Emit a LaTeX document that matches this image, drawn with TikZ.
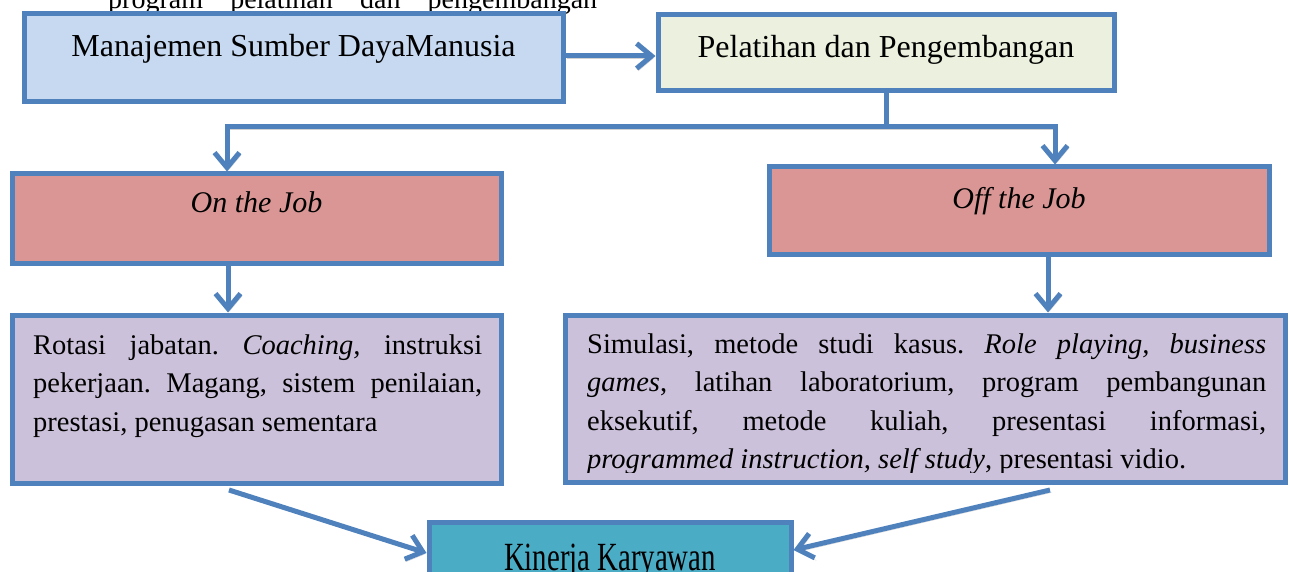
\documentclass[tikz,border=0pt]{standalone}
\usepackage{fontspec}
\setmainfont{Liberation Serif}
\usepackage{graphicx}
\usetikzlibrary{arrows.meta}
\definecolor{myBlue}{RGB}{79,129,189}
\definecolor{myLightBlue}{RGB}{198,217,241}
\definecolor{myCream}{RGB}{235,241,222}
\definecolor{myRose}{RGB}{217,150,148}
\definecolor{myLilac}{RGB}{204,193,218}
\definecolor{myTeal}{RGB}{75,172,198}
\frenchspacing

\begin{document}
\begin{tikzpicture}[%
    x=1pt, y=-1pt,
    >={Straight Barb[length=15pt,width=25pt]},
    box/.style={
        draw=myBlue, line width=5pt, inner sep=0pt,
        text height=20pt,
    },
    line/.style={draw=myBlue, line width=5pt},
    flow/.style={
        line, ->,
        preaction={draw=black!18, transform canvas={shift={(1.5pt,-2.5pt)}}},
    },
    bodytext/.style={
        inner sep=0pt, anchor=north west, align=justify,
        font=\fontsize{28.5}{38.5}\selectfont,
    },
]
\useasboundingbox (0,0) rectangle (1290,572);
\clip (0,0) rectangle (1290,572);

% place text line above the chart
\node[anchor=base west, inner sep=0pt, font=\fontsize{28}{34}\selectfont] (intro) at (108,9)
    {\makebox[489pt][s]{program pelatihan dan pengembangan}};

% place top boxes
\node[box, fill=myLightBlue, minimum width=539pt, minimum height=88pt, text depth=22pt,
    font=\fontsize{32}{36}\selectfont] (sdm) at (293.5,58) {Manajemen Sumber DayaManusia};
\node[box, fill=myCream, minimum width=456pt, minimum height=76pt, text depth=10pt,
    font=\fontsize{32}{36}\selectfont] (train) at (886,53) {Pelatihan dan Pengembangan};

% place method boxes
\node[box, fill=myRose, minimum width=489pt, minimum height=89pt, text depth=31pt,
    font=\fontsize{30}{34}\selectfont\itshape] (ojt) at (256.5,218.5) {On the Job};
\node[box, fill=myRose, minimum width=500pt, minimum height=87pt, text depth=25pt,
    font=\fontsize{30}{34}\selectfont\itshape] (offjt) at (1019,210.5) {Off the Job};

% place list boxes
\node[box, fill=myLilac, minimum width=489pt, minimum height=168pt] (ojtlist) at (256.5,399) {};
\node[box, fill=myLilac, minimum width=720pt, minimum height=167pt] (offjtlist) at (925,398.5) {};
\node[bodytext, text width=449pt] (ojttext) at (33,334)
    {\noindent\rule{0pt}{20pt}Rotasi jabatan. \textit{Coaching,} instruksi\linebreak
    pekerjaan. Magang, sistem penilaian,\linebreak
    prestasi, penugasan sementara};
\begin{scope}
    \clip (565,315) rectangle (1285,472);
    \node[bodytext, text width=679pt] (offjttext) at (587,333)
        {\noindent\rule{0pt}{20pt}Simulasi, metode studi kasus. \textit{Role playing, business}\linebreak
        \textit{games}, latihan laboratorium, program pembangunan\linebreak
        eksekutif, metode kuliah, presentasi informasi,\linebreak
        \textit{programmed instruction, self study}, presentasi vidio.};
\end{scope}

% place result box
\node[box, fill=myTeal, minimum width=362pt, minimum height=88pt, text depth=12pt,
    font=\fontsize{40}{44}\selectfont] (kinerja) at (610,566) {\scalebox{0.72}[1]{Kinerja Karyawan}};

% draw arrows
\coordinate (splitL) at (227,127);
\coordinate (splitR) at (1055,127);
\coordinate (colL) at (228,0);
\coordinate (colR) at (1048,0);
\coordinate (fromL) at (229,490);
\coordinate (fromR) at (1050,490);

\draw[flow] (sdm.east |- 0,56) -- (train.west |- 0,56);
\draw[line, preaction={draw=black!18, transform canvas={shift={(1.5pt,-2.5pt)}}}]
    (train.south) -- (train.south |- splitL);
\draw[flow, <->] (ojt.north -| splitL) -- (splitL) -- (splitR) -- (offjt.north -| splitR);
\foreach \a/\b/\c in {ojt/ojtlist/colL, offjt/offjtlist/colR} {
    \draw[flow] (\a.south -| \c) -- (\b.north -| \c);
}
\draw[flow] (fromL) -- ([yshift=13pt]kinerja.west);
\draw[flow] (fromR) -- ([yshift=16pt]kinerja.east);

\end{tikzpicture}
\end{document}
